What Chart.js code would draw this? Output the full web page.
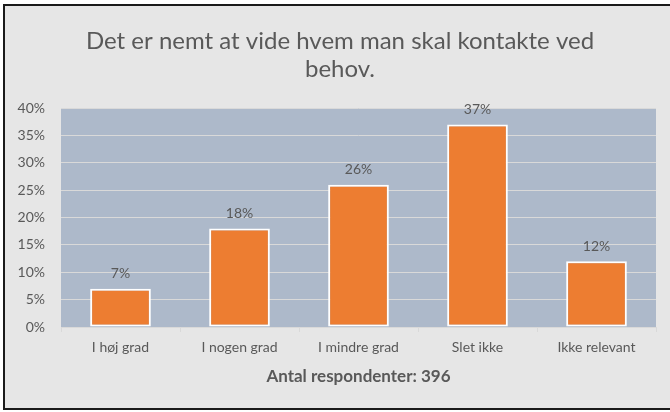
<!DOCTYPE html>
<html><head><meta charset="utf-8">
<script src="https://cdn.jsdelivr.net/npm/chart.js@4/dist/chart.umd.min.js"></script>
<style>html,body{margin:0;padding:0;background:#fff;}#wrap{width:670px;height:412px;position:relative;}</style>
</head><body><div id="wrap"><canvas id="c" width="670" height="412"></canvas></div>
<script>
const categories = ["I høj grad", "I nogen grad", "I mindre grad", "Slet ikke", "Ikke relevant"];
const values = [0.07, 0.18, 0.26, 0.37, 0.12];
const titleLines = ["Det er nemt at vide hvem man skal kontakte ved", "behov."];
const xAxisTitle = "Antal respondenter: 396";
const FONT = "Lato, 'Open Sans', sans-serif";
const TXT = "#595959";

const bgPlugin = {
  id: 'bg',
  beforeDraw(chart) {
    const ctx = chart.ctx;
    ctx.save();
    ctx.fillStyle = '#ffffff';
    ctx.fillRect(0, 0, chart.width, chart.height);
    ctx.fillStyle = '#E6E6E6';
    ctx.fillRect(4, 5, chart.width, 404);
    ctx.strokeStyle = '#1a1a1a';
    ctx.lineWidth = 2;
    ctx.beginPath();
    ctx.moveTo(chart.width + 2, 5);
    ctx.lineTo(4, 5);
    ctx.lineTo(4, 409);
    ctx.lineTo(chart.width + 2, 409);
    ctx.stroke();
    const a = chart.chartArea;
    ctx.fillStyle = '#ADB9CA';
    ctx.fillRect(a.left, a.top, a.right - a.left, a.bottom - a.top);
    // title
    ctx.fillStyle = TXT;
    ctx.font = "24px " + FONT;
    ctx.textAlign = 'center';
    ctx.textBaseline = 'middle';
    titleLines.forEach((t, i) => ctx.fillText(t, 340, 41 + i * 28));
    ctx.restore();
  }
};
const labelPlugin = {
  id: 'labels',
  afterDatasetsDraw(chart) {
    const ctx = chart.ctx;
    const meta = chart.getDatasetMeta(0);
    ctx.save();
    ctx.fillStyle = TXT;
    ctx.font = "14px " + FONT;
    ctx.textAlign = 'center';
    ctx.textBaseline = 'bottom';
    meta.data.forEach((bar, i) => {
      ctx.fillText(Math.round(values[i] * 100) + '%', bar.x, bar.y - 8);
    });
    ctx.restore();
  }
};

new Chart(document.getElementById('c'), {
  type: 'bar',
  data: {
    labels: categories,
    datasets: [{
      data: values,
      backgroundColor: '#ED7D31',
      borderColor: '#ffffff',
      borderWidth: 2,
      borderSkipped: false,
      barPercentage: 0.51,
      categoryPercentage: 1.0
    }]
  },
  options: {
    responsive: false,
    animation: false,
    devicePixelRatio: 1,
    layout: { padding: { left: 0, right: 14, top: 108, bottom: 0 } },
    plugins: {
      legend: { display: false },
      tooltip: { enabled: false },
      title: { display: false }
    },
    scales: {
      x: {
        afterFit(s) { s.height = 85; },
        grid: { display: true, drawOnChartArea: false, color: '#D9D9D9', tickLength: 5, offset: true },
        border: { display: true, color: '#D9D9D9' },
        ticks: { color: TXT, font: { family: FONT, size: 14 }, padding: 7, maxRotation: 0 },
        title: {
          display: true, text: xAxisTitle, color: TXT,
          font: { family: FONT, size: 17, weight: 'bold' },
          padding: { top: 0, bottom: 25 }
        }
      },
      y: {
        min: 0, max: 0.4,
        afterFit(s) { s.width = 61; },
        grid: { color: '#D9D9D9', drawTicks: false, lineWidth: 1 },
        border: { display: false },
        ticks: {
          stepSize: 0.05, color: TXT, font: { family: FONT, size: 14 }, padding: 16,
          callback: v => Math.round(v * 100) + '%'
        }
      }
    }
  },
  plugins: [bgPlugin, labelPlugin]
});
</script></body></html>
